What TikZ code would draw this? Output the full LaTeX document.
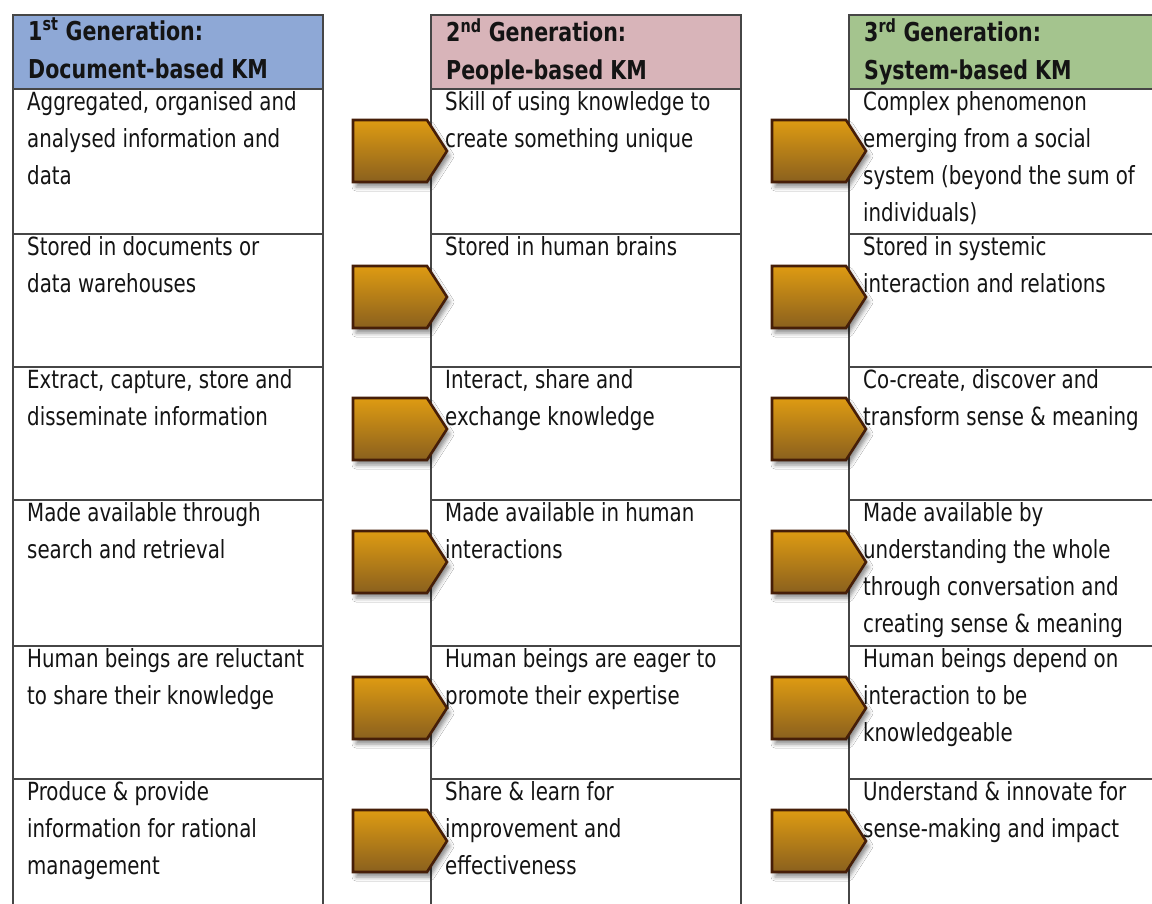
\documentclass[tikz,border=0pt]{standalone}
\usepackage{fontspec}
\setmainfont{DejaVu Sans Condensed}[FakeStretch=0.88]
\usetikzlibrary{shadows.blur}

\definecolor{headblue}{RGB}{142,168,214}
\definecolor{headpink}{RGB}{216,180,185}
\definecolor{headgreen}{RGB}{164,196,142}
\definecolor{cellline}{RGB}{70,70,70}
\definecolor{arrowtop}{RGB}{222,155,18}
\definecolor{arrowbot}{RGB}{138,96,30}
\definecolor{arrowedge}{RGB}{70,30,8}
\definecolor{inktext}{RGB}{20,20,20}

\newcommand\bodyfont{\fontsize{25}{37}\selectfont}
\newcommand\headfont{\bfseries\fontsize{26}{38}\selectfont}

\tikzset{
  cell/.style={draw=cellline, line width=1.8pt, minimum width=310pt, anchor=north west, inner sep=0pt},
  head/.style={cell, minimum height=74pt},
  headtext/.style={anchor=north west, align=left, inner sep=0pt, text=inktext, font=\headfont, xshift=16pt, yshift=-4pt},
  body/.style={anchor=north west, align=left, inner sep=0pt, text=inktext, font=\bodyfont, xshift=15pt, yshift=-3pt},
  genarrow/.style={draw=arrowedge, line width=2.6pt, line join=miter, top color=arrowtop, bottom color=arrowbot,
    blur shadow={shadow xshift=3pt, shadow yshift=-5pt, shadow blur radius=4pt, shadow opacity=45}}
}

\begin{document}
\begin{tikzpicture}[x=1pt, y=-1pt]

\useasboundingbox (0,0) rectangle (1152,904);
\clip (0,0) rectangle (1152,904);
\fill[white] (0,0) rectangle (1152,904);

% headers
\node[head, fill=headblue] (h1) at (12,14) {};
\node[head, fill=headpink] (h2) at (430,14) {};
\node[head, fill=headgreen] (h3) at (848,14) {};

\node[headtext] (ht1) at (h1.north west) {1\textsuperscript{st} Generation:\\Document-based KM};
\node[headtext] (ht2) at (h2.north west) {2\textsuperscript{nd} Generation:\\People-based KM};
\node[headtext] (ht3) at (h3.north west) {3\textsuperscript{rd} Generation:\\System-based KM};

% cells
\foreach \x [count=\k] in {12,430,848}
  \foreach \y/\h [count=\r] in {88/145,233/133,366/133,499/146,645/133,778/140}
    \node[cell, minimum height=\h] (c\k\r) at (\x,\y) {};

% 1st generation
\node[body] (t11) at (c11.north west) {Aggregated, organised and\\analysed information and\\data};
\node[body] (t12) at (c12.north west) {Stored in documents or\\data warehouses};
\node[body] (t13) at (c13.north west) {Extract, capture, store and\\disseminate information};
\node[body] (t14) at (c14.north west) {Made available through\\search and retrieval};
\node[body] (t15) at (c15.north west) {Human beings are reluctant\\to share their knowledge};
\node[body] (t16) at (c16.north west) {Produce \& provide\\information for rational\\management};

% 2nd generation
\node[body] (t21) at (c21.north west) {Skill of using knowledge to\\create something unique};
\node[body] (t22) at (c22.north west) {Stored in human brains};
\node[body] (t23) at (c23.north west) {Interact, share and\\exchange knowledge};
\node[body] (t24) at (c24.north west) {Made available in human\\interactions};
\node[body] (t25) at (c25.north west) {Human beings are eager to\\promote their expertise};
\node[body] (t26) at (c26.north west) {Share \& learn for\\improvement and\\effectiveness};

% 3rd generation
\node[body] (t31) at (c31.north west) {Complex phenomenon\\emerging from a social\\system (beyond the sum of\\individuals)};
\node[body] (t32) at (c32.north west) {Stored in systemic\\interaction and relations};
\node[body] (t33) at (c33.north west) {Co-create, discover and\\transform sense \& meaning};
\node[body] (t34) at (c34.north west) {Made available by\\understanding the whole\\through conversation and\\creating sense \& meaning};
\node[body] (t35) at (c35.north west) {Human beings depend on\\interaction to be\\knowledgeable};
\node[body] (t36) at (c36.north west) {Understand \& innovate for\\sense-making and impact};

% arrows between the generations
\foreach \a in {353,772}
  \foreach \m in {151,297,429,562,708,841}
    \draw[genarrow] (\a,\m-31) -- ++(74,0) -- ++(20,31) -- ++(-20,31) -- ++(-74,0) -- cycle;

\end{tikzpicture}
\end{document}
